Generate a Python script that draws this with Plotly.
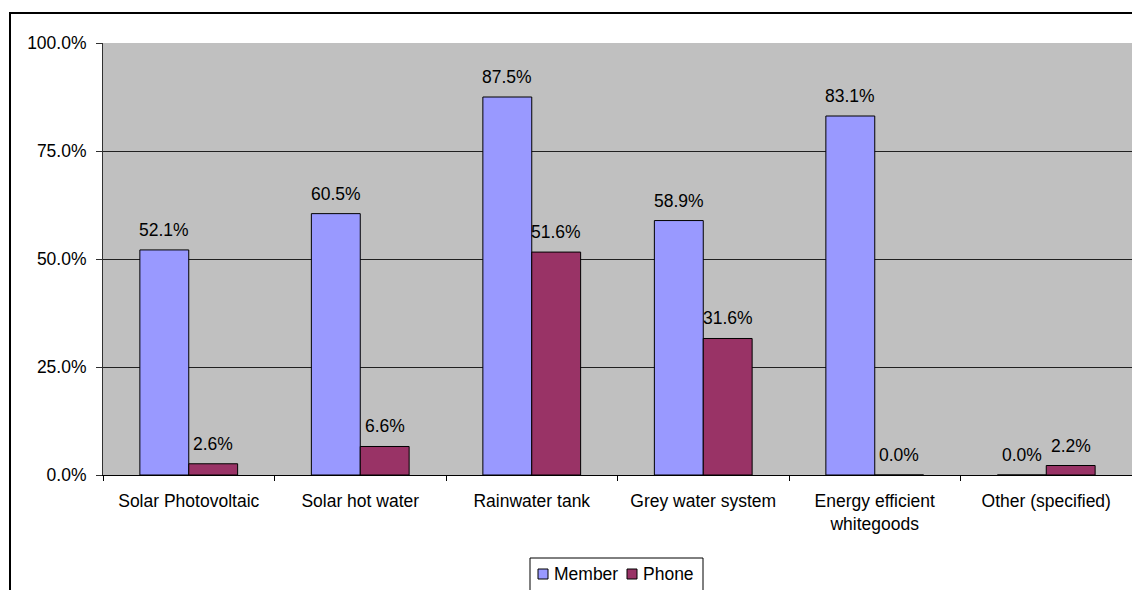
import plotly.graph_objects as go

categories = ["Solar Photovoltaic", "Solar hot water", "Rainwater tank", "Grey water system",
              "Energy efficient<br>whitegoods", "Other (specified)"]
series_names = ["Member", "Phone"]
member = [52.1, 60.5, 87.5, 58.9, 83.1, 0.0]
phone = [2.6, 6.6, 51.6, 31.6, 0.0, 2.2]
yticks = [0, 25, 50, 75, 100]
ytick_labels = ["0.0%", "25.0%", "50.0%", "75.0%", "100.0%"]
colors = ["#9999FF", "#993366"]

W, H = 1132, 590
L, R, T, B = 103, 0, 43, 115
pw, ph = W - L - R, H - T - B
FS = 17.5
font = dict(family="Liberation Sans, Arial", size=FS, color="black")


def px_x(p):
    return (p - L) / pw


def px_y(p):
    return (H - B - p) / ph


fig = go.Figure()
for name, vals, col in zip(series_names, [member, phone], colors):
    fig.add_trace(go.Bar(name=name, x=categories, y=vals,
                         marker=dict(color=col, line=dict(color="black", width=1)),
                         showlegend=False))

annotations = []
bar_w = 0.57 * pw / len(categories) / 2
for si, vals in enumerate([member, phone]):
    shift = (-0.5 if si == 0 else 0.5) * bar_w
    for c, v in zip(categories, vals):
        annotations.append(dict(x=c, y=v, xref="x", yref="y", text=f"{v:.1f}%",
                                showarrow=False, xshift=shift, yshift=20,
                                yanchor="middle", xanchor="center", font=font))

# legend (drawn manually to match the compact boxed legend)
shapes = [dict(type="rect", xref="paper", yref="paper",
               x0=px_x(10), x1=px_x(W + 20), y0=px_y(H + 20), y1=px_y(13),
               line=dict(color="black", width=2), fillcolor="rgba(0,0,0,0)", layer="below"),
          dict(type="rect", xref="paper", yref="paper",
               x0=px_x(530), x1=px_x(703), y0=px_y(H + 20), y1=px_y(558),
               line=dict(color="black", width=1), fillcolor="white", layer="above")]
leg_sq_x = [538, 627]
leg_txt_x = [552, 641]
for name, col, sx, tx in zip(series_names, colors, leg_sq_x, leg_txt_x):
    shapes.append(dict(type="rect", xref="paper", yref="paper",
                       x0=px_x(sx), x1=px_x(sx + 10), y0=px_y(579), y1=px_y(569),
                       line=dict(color="black", width=1), fillcolor=col, layer="above"))
    annotations.append(dict(x=px_x(tx), y=px_y(574), xref="paper", yref="paper", text=name,
                            showarrow=False, xanchor="left", yanchor="middle", font=font))

fig.update_layout(
    width=W, height=H,
    margin=dict(l=L, r=R, t=T, b=B),
    paper_bgcolor="white", plot_bgcolor="#C0C0C0",
    barmode="group", bargap=0.43, bargroupgap=0,
    font=font,
    showlegend=False,
    xaxis=dict(tickmode="array", tickvals=categories, ticks="outside", tickson="boundaries",
               ticklen=5, tickcolor="black", showline=True, linecolor="black", linewidth=1,
               tickfont=font, showgrid=False, ticklabelstandoff=10),
    yaxis=dict(range=[0, 100], tickvals=yticks, ticktext=ytick_labels, ticks="outside",
               ticklen=6, tickcolor="#303030", showline=True, linecolor="#303030", linewidth=1,
               showgrid=True, gridcolor="#202020", gridwidth=1, tickfont=font, zeroline=False,
               ticklabelstandoff=6),
    shapes=shapes,
    annotations=annotations,
)

fig.write_html("out.html")
